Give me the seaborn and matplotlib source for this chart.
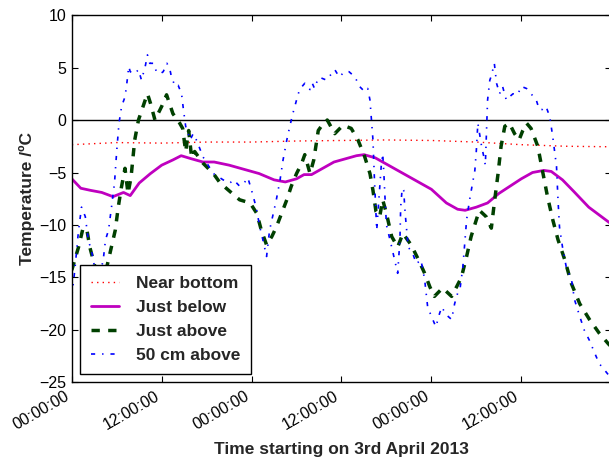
import numpy as np
import pandas as pd
import matplotlib
matplotlib.use("Agg")
import matplotlib.pyplot as plt
import matplotlib.dates as mdates
import seaborn as sns

# ---------------- data (hours since 3 April 2013 00:00, temperature in degC) ----
near_bottom_h = [0, 6, 12, 18, 24, 30, 36, 42, 48, 54, 60, 66, 72]
near_bottom_t = [-2.35, -2.15, -2.2, -2.1, -2.1, -2.0, -1.95, -1.9, -1.95, -2.1,
                 -2.35, -2.5, -2.55]

just_below_h = [0, 1.2, 2.5, 4, 5.5, 6.9, 7.8, 9, 10.5, 12, 13.5, 14.6, 16, 17.5,
                19, 21, 23, 25, 27, 28.5, 30, 31, 32, 33.5, 35, 36.5, 38, 39, 40.5,
                42, 44, 46, 48, 50, 51.5, 52.5, 54, 55.5, 57, 58.5, 60, 61.5, 63,
                64, 65.5, 67, 69, 72]
just_below_t = [-5.6, -6.5, -6.7, -6.9, -7.3, -6.9, -7.2, -6.0, -5.1, -4.3, -3.8,
                -3.4, -3.7, -4.0, -4.0, -4.3, -4.7, -5.1, -5.7, -5.9, -5.6, -5.2,
                -5.2, -4.6, -4.0, -3.7, -3.4, -3.3, -3.6, -4.2, -5.0, -5.8, -6.6,
                -7.9, -8.5, -8.6, -8.3, -7.9, -7.0, -6.3, -5.6, -5.0, -4.8, -4.9,
                -5.7, -6.8, -8.3, -9.9]

just_above_h = [0, 0.9, 1.5, 2.0, 2.4, 3.1, 3.8, 4.4, 4.9, 5.8, 6.2, 6.6, 7.1, 7.5,
                7.9, 8.4, 8.9, 9.8, 10.1, 10.5, 11.1, 12.0, 12.65, 13.5, 14.4, 14.8,
                15.2, 15.6, 16.0, 16.4, 17.5, 18.9, 19.8, 21.1, 22.4, 23.8, 24.7,
                25.3, 26.0, 26.7, 27.3, 28.0, 28.7, 29.3, 30.0, 30.7, 31.1, 31.8,
                32.3, 32.9, 33.3, 34.1, 35.1, 36.2, 37.3, 38.2, 39.1, 39.8, 40.2,
                40.6, 41.1, 41.5, 42.0, 42.7, 43.5, 44.2, 45.3, 46.2, 47.1, 47.8,
                48.4, 49.5, 50.7, 51.5, 52.0, 52.7, 53.3, 54.0, 54.4, 55.3, 56.0,
                56.4, 56.9, 57.3, 57.8, 58.4, 59.1, 59.7, 60.2, 60.7, 61.3, 62.2,
                62.9, 63.5, 64.2, 64.9, 65.8, 66.7, 67.8, 69.1, 70.4, 71.6, 72.0]
just_above_t = [-14.3, -12.1, -10.3, -10.4, -12.1, -14.0, -15.5, -14.8, -13.3,
                -10.5, -8.3, -6.5, -4.6, -7.0, -5.5, -1.9, 0.0, 1.9, 2.5, 1.6, 0.0,
                1.3, 2.4, 0.6, -0.3, -0.8, -3.0, -1.0, -3.6, -3.0, -4.1, -5.1,
                -6.0, -6.8, -7.6, -7.9, -8.9, -10.5, -11.9, -11.1, -10.2, -8.9,
                -7.6, -6.3, -5.1, -4.1, -3.3, -5.1, -3.8, -1.0, -0.6, 0.0, -1.3,
                -0.5, -0.8, -1.9, -3.5, -5.1, -6.7, -8.7, -9.2, -7.6, -8.9, -11.1,
                -12.1, -10.8, -11.9, -13.2, -14.6, -15.9, -16.8, -16.0, -16.8,
                -15.7, -15.0, -13.0, -11.1, -9.5, -8.6, -9.2, -10.3, -7.9, -5.1,
                -2.5, -0.6, -0.3, -1.3, -1.9, -1.0, -0.3, -0.8, -2.5, -5.1, -7.3,
                -9.5, -11.4, -13.3, -15.6, -17.5, -19.0, -20.3, -21.3, -21.6]

above_50cm_h = [0, 0.4, 0.9, 1.3, 1.8, 2.2, 2.7, 2.9, 3.5, 4.2, 4.5, 4.9, 5.3, 5.7,
                6.0, 6.3, 6.65, 7.1, 7.3, 7.6, 7.8, 8.4, 8.9, 9.3, 9.8, 10.1, 10.4,
                10.9, 11.3, 11.8, 12.2, 12.7, 13.1, 13.3, 13.8, 14.2, 14.65, 14.9,
                15.2, 15.5, 15.8, 16.2, 16.7, 17.5, 18.9, 20.2, 21.1, 21.6, 22.4,
                23.0, 23.5, 24.0, 24.6, 25.1, 25.5, 26.0, 26.4, 26.9, 27.3, 27.8,
                28.2, 28.7, 29.1, 29.5, 30.0, 30.4, 31.1, 31.8, 32.1, 32.4, 32.9,
                33.3, 34.0, 35.1, 35.7, 36.4, 37.0, 37.8, 38.4, 39.1, 39.5, 39.8,
                40.0, 40.2, 40.4, 40.6, 40.7, 41.0, 41.3, 41.5, 41.65, 41.8, 42.0,
                42.7, 43.3, 43.5, 43.8, 43.9, 44.1, 44.3, 44.5, 44.9, 45.5, 46.0,
                46.6, 47.1, 47.5, 48.0, 48.6, 49.1, 49.4, 49.9, 50.7, 51.1, 51.5,
                51.8, 52.2, 52.7, 53.1, 53.5, 53.8, 54.0, 54.2, 54.4, 54.7, 55.0,
                55.2, 55.4, 55.5, 55.8, 56.0, 56.4, 56.7, 57.1, 57.5, 58.0, 58.4,
                58.9, 59.5, 60.0, 60.7, 61.3, 62.0, 62.4, 62.8, 63.3, 63.8, 64.2,
                64.7, 64.9, 65.1, 65.5, 66.0, 66.7, 67.1, 67.8, 68.4, 69.1, 69.8,
                70.4, 71.1, 72.0]
above_50cm_t = [-16.8, -14.3, -10.5, -8.3, -9.2, -11.4, -12.7, -13.5, -15.5, -13.3,
                -11.4, -10.5, -8.3, -6.0, -2.9, -0.3, 1.3, 2.2, 3.2, 5.1, 4.6, 4.4,
                4.8, 3.8, 5.1, 6.2, 5.4, 5.4, 4.6, 4.4, 4.6, 5.4, 4.8, 4.1, 3.2,
                3.3, 2.5, 1.0, -0.6, -1.2, -1.9, -1.3, -2.0, -3.5, -5.1, -5.7,
                -6.0, -5.7, -6.3, -6.0, -5.5, -6.7, -8.3, -10.2, -11.4, -13.0,
                -10.5, -8.9, -7.6, -5.7, -3.8, -1.9, -0.6, 0.6, 1.9, 2.9, 3.5, 2.9,
                3.5, 3.0, 4.0, 4.0, 3.8, 4.8, 4.1, 4.6, 4.6, 4.1, 3.2, 2.7, 3.0,
                1.9, 0.0, -1.9, -5.7, -8.9, -10.5, -7.5, -4.4, -3.2, -5.0, -7.3,
                -10.0, -12.1, -14.0, -14.6, -11.4, -8.3, -6.5, -6.7, -8.9, -12.1,
                -12.7, -13.7, -13.3, -15.2, -17.8, -18.7, -19.7, -18.4, -17.8,
                -18.5, -19.0, -17.5, -16.5, -16.2, -14.0, -9.5, -7.6, -6.0, -4.8,
                -2.9, -0.3, -1.2, -2.5, -3.5, -4.3, -0.3, 1.9, 3.8, 4.2, 5.4, 3.5,
                2.5, 3.2, 1.9, 2.2, 2.5, 2.4, 3.2, 3.0, 2.5, 1.9, 1.0, 1.0, 1.3,
                0.3, -1.6, -4.4, -7.6, -10.2, -12.1, -14.0, -15.2, -17.1, -18.7,
                -20.0, -21.0, -22.2, -23.2, -23.8, -24.6]

series_labels = ["Near bottom", "Just below", "Just above", "50 cm above"]
x_tick_hours = [0, 12, 24, 36, 48, 60]
y_ticks = [-25, -20, -15, -10, -5, 0, 5, 10]

# ---------------- style ----------------
sns.set_style("ticks")
plt.rcParams["font.family"] = ["Liberation Sans", "DejaVu Sans"]
plt.rcParams["lines.scale_dashes"] = False
plt.rcParams["axes.unicode_minus"] = True

start = pd.Timestamp("2013-04-03 00:00:00")


def to_time(hours):
    return start + pd.to_timedelta(np.asarray(hours, dtype=float), unit="h")


fig = plt.figure(figsize=(6.09, 4.62), dpi=100)
ax = fig.add_axes([0.1179, 0.1721, 0.8857, 0.7954])

ax.axhline(0, color="black", lw=1.0, zorder=1)

specs = [
    (near_bottom_h, near_bottom_t, "#ff0000", 1.0, (0, (1, 3))),
    (just_below_h, just_below_t, "#bf00bf", 2.0, "-"),
    (just_above_h, just_above_t, "#004000", 2.5, (0, (6, 6))),
    (above_50cm_h, above_50cm_t, "#0000ff", 1.2, (0, (3, 5, 1, 5))),
]
for (hh, tt, col, lw, ls), lab in zip(specs, series_labels):
    df = pd.DataFrame({"time": to_time(hh), "temp": tt})
    sns.lineplot(data=df, x="time", y="temp", ax=ax, color=col, lw=lw,
                 linestyle=ls, label=lab, sort=False, estimator=None,
                 errorbar=None, zorder=2)

ax.set_xlim(start, start + pd.Timedelta(hours=72))
ax.set_ylim(-25, 10)
ax.set_yticks(y_ticks)
ax.set_xticks(to_time(x_tick_hours))
ax.xaxis.set_major_formatter(mdates.DateFormatter("%H:%M:%S"))

ax.tick_params(direction="in", top=True, right=True, length=4, width=0.8,
               labelsize=11.5, pad=4, colors="black")
for lbl in ax.get_xticklabels():
    lbl.set_rotation(30)
    lbl.set_ha("right")

for s in ax.spines.values():
    s.set_visible(True)
    s.set_color("black")
    s.set_linewidth(1.0)

ax.set_xlabel("Time starting on 3rd April 2013", fontsize=12.5,
              fontweight="bold", labelpad=7)
ax.set_ylabel("Temperature /ºC", fontsize=12.5, fontweight="bold", labelpad=3)

leg = ax.legend(loc="lower left", prop={"size": 12.5, "weight": "bold"},
                frameon=True, fancybox=False, framealpha=1, edgecolor="black",
                handlelength=1.6, handletextpad=1.0, labelspacing=0.52,
                borderpad=0.6, borderaxespad=0.5)
leg.get_frame().set_linewidth(1.0)

fig.savefig("out.png", dpi=100)
